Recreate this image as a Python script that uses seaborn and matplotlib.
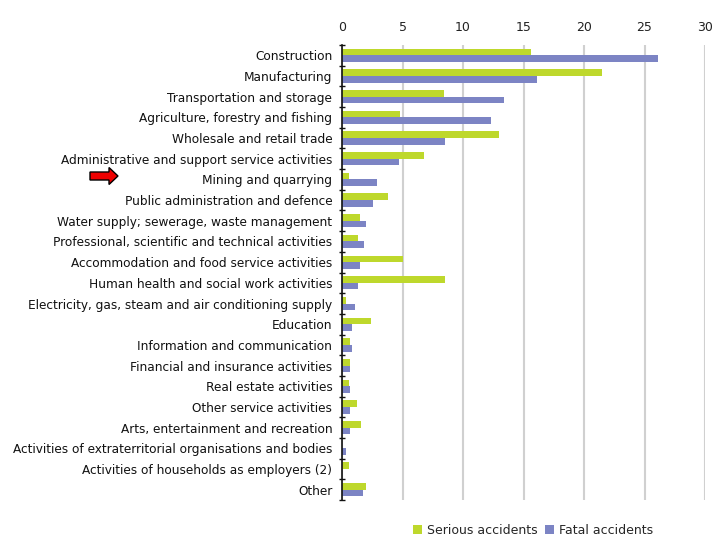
import matplotlib
matplotlib.use("Agg")
import matplotlib.pyplot as plt
import seaborn as sns
import pandas as pd
import numpy as np
from matplotlib.patches import FancyArrow

sectors = [
    "Construction", "Manufacturing", "Transportation and storage",
    "Agriculture, forestry and fishing", "Wholesale and retail trade",
    "Administrative and support service activities", "Mining and quarrying",
    "Public administration and defence", "Water supply; sewerage, waste management",
    "Professional, scientific and technical activities",
    "Accommodation and food service activities", "Human health and social work activities",
    "Electricity, gas, steam and air conditioning supply", "Education",
    "Information and communication", "Financial and insurance activities",
    "Real estate activities", "Other service activities",
    "Arts, entertainment and recreation",
    "Activities of extraterritorial organisations and bodies",
    "Activities of households as employers (2)", "Other",
]
serious = [15.6, 21.5, 8.4, 4.8, 13.0, 6.75, 0.6, 3.8, 1.5, 1.35, 5.0, 8.55,
           0.3, 2.4, 0.7, 0.7, 0.6, 1.2, 1.6, 0.0, 0.6, 2.0]
fatal = [26.1, 16.1, 13.4, 12.3, 8.5, 4.7, 2.9, 2.6, 2.0, 1.85, 1.5, 1.35,
         1.1, 0.85, 0.85, 0.7, 0.7, 0.7, 0.7, 0.3, 0.0, 1.75]
series_names = ["Serious accidents", "Fatal accidents"]
colors = ["#BED82C", "#7C84C4"]
xticks = [0, 5, 10, 15, 20, 25, 30]

df = pd.DataFrame({
    "sector": sectors * 2,
    "value": serious + fatal,
    "series": [series_names[0]] * len(sectors) + [series_names[1]] * len(sectors),
})

sns.set_theme(style="white")
plt.rcParams["font.family"] = ["DejaVu Sans"]

fig = plt.figure(figsize=(7.17, 5.38), dpi=100)
ax = fig.add_axes([342 / 717, 1 - 500 / 538, (705 - 342) / 717, (500 - 45) / 538])

sns.barplot(data=df, x="value", y="sector", hue="series", order=sectors,
            hue_order=series_names, palette=colors, width=0.64, gap=0, orient="h",
            ax=ax, saturation=1, legend=True, linewidth=0, edgecolor="none")

ax.set_xlim(0, 30)
ax.set_ylim(len(sectors) - 0.5, -0.5)
ax.set_xticks(xticks)
ax.xaxis.tick_top()
ax.tick_params(axis="x", length=0, labelsize=9, colors="#222222", pad=8)
ax.tick_params(axis="y", which="major", length=0, labelsize=8.7, colors="#111111", pad=7)
ax.set_yticks(np.arange(len(sectors) + 1) - 0.5, minor=True)
ax.tick_params(axis="y", which="minor", left=True, length=4, width=1,
               direction="inout", color="#111111")
ax.grid(axis="x", color="#d0d0d0", linewidth=1.5)
ax.set_axisbelow(True)
for s in ["top", "right", "bottom"]:
    ax.spines[s].set_visible(False)
ax.spines["left"].set_color("#111111")
ax.spines["left"].set_linewidth(1.2)
ax.set_xlabel("")
ax.set_ylabel("")

leg = ax.get_legend()
leg.remove()
handles, labels = ax.get_legend_handles_labels()
fig.legend(handles, labels, loc="center", bbox_to_anchor=(533 / 717, 1 - 530 / 538),
           ncol=2, frameon=False, fontsize=9, handlelength=0.7, handleheight=0.7,
           columnspacing=0.6, handletextpad=0.4)

arrow = FancyArrow(90 / 717, 1 - 176 / 538, 28 / 717, 0, width=8 / 538,
                   head_width=17 / 538, head_length=9 / 717,
                   length_includes_head=True, transform=fig.transFigure,
                   facecolor="#ee0000", edgecolor="black", linewidth=1)
fig.patches.append(arrow)

fig.savefig("out.png", dpi=100)
